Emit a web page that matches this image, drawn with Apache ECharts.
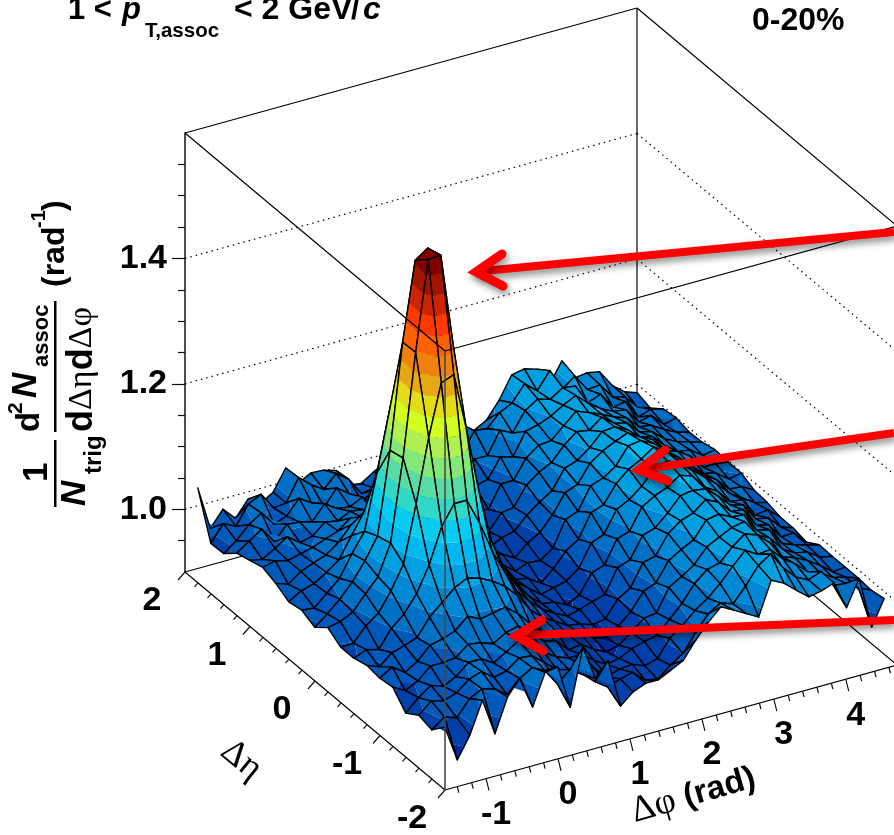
<!DOCTYPE html>
<html><head><meta charset="utf-8">
<style>html,body{margin:0;padding:0;background:#fff}#c{width:894px;height:835px}</style>
<script src="https://cdn.jsdelivr.net/npm/echarts@6/dist/echarts.min.js"></script>
</head><body><div id="c"></div>
<script>
// Surface height (per mille) at each bin centre: one row per delta-eta bin, 36 delta-phi bins each.
const zEtaM19=[989,931,965,1015,956,1009,1035,982,1032,1035,965,1055,1000,1023,945,962,970,970,980,990,1017,1040,1059,1048,1037,1026,1079,1069,1052,1036,1040,1047,1002,1043,960,1000];
const zEtaM17=[967,982,975,1000,1010,1005,990,1010,1022,1012,985,1002,990,972,958,965,970,952,948,965,978,1005,1030,1042,1035,1058,1085,1098,1070,1050,1040,1048,1020,1018,1005,996];
const zEtaM15=[973,990,985,992,1008,1015,1000,1005,1020,1018,1002,985,978,980,970,952,958,960,952,958,985,1000,1018,1032,1050,1072,1092,1080,1082,1062,1048,1030,1022,1010,1005,998];
const zEtaM13=[959,978,992,985,995,1012,1012,1000,1012,1025,1012,995,982,975,975,960,948,952,962,968,972,992,1012,1038,1055,1060,1080,1095,1088,1070,1042,1035,1025,1012,996,998];
const zEtaM11=[983,972,982,1000,1000,1002,1018,1015,1008,1020,1025,1008,990,985,965,968,955,945,950,965,982,985,1020,1032,1045,1068,1078,1088,1092,1065,1055,1032,1020,1016,1002,998];
const zEtaM09=[980,992,978,990,1010,1015,1022,1040,1030,1034,1038,1022,1000,980,978,965,962,950,945,958,975,1002,1010,1040,1052,1062,1088,1092,1082,1080,1050,1045,1018,1010,1004,999];
const zEtaM07=[983,975,992,998,1005,1032,1050,1068,1078,1072,1062,1048,1028,1000,982,970,958,955,948,952,978,990,1025,1030,1060,1075,1082,1098,1088,1068,1065,1035,1030,1005,1006,986];
const zEtaM05=[977,985,980,1008,1025,1052,1092,1148,1179,1179,1138,1088,1048,1012,990,972,960,950,955,962,968,1005,1012,1045,1052,1070,1092,1095,1092,1075,1055,1050,1022,1018,998,991];
const zEtaM03=[977,978,1000,1015,1045,1082,1172,1272,1354,1362,1270,1165,1080,1032,998,975,958,955,945,955,985,992,1028,1035,1068,1080,1088,1102,1095,1072,1060,1038,1035,1005,1008,991];
const zEtaM01=[991,995,1005,1028,1050,1098,1228,1391,1534,1535,1385,1225,1105,1045,1008,980,965,950,955,960,975,1010,1018,1052,1062,1078,1100,1108,1098,1082,1065,1048,1028,1015,1002,997];
const zEtaP01=[974,990,1008,1030,1058,1092,1223,1390,1515,1529,1385,1220,1115,1048,1002,985,962,958,945,962,985,998,1035,1042,1070,1088,1098,1112,1100,1080,1060,1045,1032,1012,1010,999];
const zEtaP03=[984,982,1000,1018,1052,1082,1170,1265,1345,1350,1270,1175,1090,1040,1012,975,968,952,960,958,972,1012,1020,1055,1062,1075,1102,1105,1095,1075,1062,1042,1025,1020,1005,1009];
const zEtaP05=[980,992,998,1010,1025,1058,1090,1145,1178,1175,1140,1095,1058,1025,992,985,960,962,950,968,980,1002,1032,1040,1068,1082,1092,1100,1088,1078,1055,1048,1035,1012,1012,1009];
const zEtaP07=[992,985,1000,1008,1015,1030,1052,1060,1080,1074,1062,1042,1028,1005,990,968,975,955,965,970,990,1005,1018,1048,1055,1070,1090,1092,1082,1065,1060,1040,1025,1022,1008,1011];
const zEtaP09=[1000,1005,1000,1005,1010,1018,1025,1040,1035,1042,1030,1020,1005,995,985,978,962,972,958,982,985,1015,1030,1040,1062,1078,1075,1090,1075,1070,1050,1045,1028,1018,1012,1006];
const zEtaP11=[994,990,1002,1015,1000,1005,1022,1018,1028,1025,1012,1010,1002,1000,975,985,970,960,975,970,1005,1005,1035,1050,1052,1070,1088,1080,1072,1062,1055,1035,1032,1020,1010,1005];
const zEtaP13=[988,1002,1015,990,1012,1010,1005,1028,1015,1012,1022,1005,995,985,990,968,980,972,965,990,995,1025,1020,1055,1060,1068,1080,1090,1072,1058,1048,1045,1020,1025,1005,1010];
const zEtaP15=[970,985,1005,1018,995,1002,1025,1012,1000,1025,1010,992,1005,990,972,985,965,980,985,975,1010,1010,1045,1035,1065,1078,1072,1085,1082,1050,1058,1032,1035,1005,1012,1007];
const zEtaP17=[969,995,985,1015,1025,998,1000,1035,1018,1005,1025,1010,982,985,995,970,990,975,975,1000,1000,1032,1030,1050,1060,1085,1068,1095,1060,1075,1048,1050,1025,1020,998,991];
const zEtaP19=[1040,970,995,975,1000,988,1000,1033,1003,1014,1013,1007,978,975,988,1000,980,1005,985,1010,1000,1025,1010,1021,1047,1082,1086,1080,1049,1082,1049,1052,1048,1021,1005,998];
const zRows=[zEtaM19,zEtaM17,zEtaM15,zEtaM13,zEtaM11,zEtaM09,zEtaM07,zEtaM05,zEtaM03,zEtaM01,zEtaP01,zEtaP03,zEtaP05,zEtaP07,zEtaP09,zEtaP11,zEtaP13,zEtaP15,zEtaP17,zEtaP19];
zRows.forEach((r,k)=>{if(r.length!==36)throw new Error('row '+k+' has '+r.length)});

const zMajor=[1.0,1.2,1.4];
const zMinor=[0.95,1.05,1.1,1.15,1.25,1.3,1.35,1.45,1.5,1.55];
const phiMajor=[-1,0,1,2,3,4];
const phiMinor=[-1.4,-1.2,-0.8,-0.6,-0.4,-0.2,0.2,0.4,0.6,0.8,1.2,1.4,1.6,1.8,2.2,2.4,2.6,2.8,3.2,3.4,3.6,3.8,4.2,4.4,4.6];
const etaMajor=[-2,-1,0,1,2];
const etaMinor=[-1.8,-1.6,-1.4,-1.2,-0.8,-0.6,-0.4,-0.2,0.2,0.4,0.6,0.8,1.2,1.4,1.6,1.8];
const palette=['#0028a0','#0040a8','#0058b8','#0070c4','#0088d4','#00a0e0','#00b8f0','#08ccf0','#30d8c8','#58dca4','#84e878','#b0f050','#d2ff20','#e4dc18','#e8a814','#f08010','#ff6000','#ff3800','#cc2400','#a01400','#800000'];
const zBandStart=0.92, zBandStep=0.0295;

const PI=Math.PI, phiMin=-PI/2, phiMax=3*PI/2, phiBin=2*PI/36, etaBin=0.2, zMin=0.9, zMax=1.6;
const skewEta=[260,218], skewPhi=-125;
function project(api,phi,eta,z){
  const p=api.coord([phi,z]);
  const e=(2-eta)/4, f=(phi-phiMin)/(phiMax-phiMin);
  return [p[0]+e*skewEta[0], p[1]+e*skewEta[1]+f*skewPhi];
}
function clip(poly,level,keepAbove){
  const out=[];
  for(let k=0;k<poly.length;k++){
    const a=poly[k], b=poly[(k+1)%poly.length];
    const ai=keepAbove?a[2]>=level:a[2]<=level, bi=keepAbove?b[2]>=level:b[2]<=level;
    if(ai)out.push(a);
    if(ai!==bi){const t=(level-a[2])/(b[2]-a[2]);out.push([a[0]+t*(b[0]-a[0]),a[1]+t*(b[1]-a[1]),level]);}
  }
  return out;
}
const cellData=[];
for(let j=18;j>=0;j--)for(let i=34;i>=0;i--)cellData.push([i,j]);

function renderCell(params,api){
  const i=api.value(0), j=api.value(1);
  const corners=[[i,j],[i+1,j],[i+1,j+1],[i,j+1]].map(([a,b])=>{
    const z=zRows[b][a]/1000, phi=phiMin+(a+.5)*phiBin, eta=-2+(b+.5)*etaBin, p=project(api,phi,eta,z);
    return [p[0],p[1],z];
  });
  const children=[];
  const zs=corners.map(c=>c[2]), lo=Math.min(...zs), hi=Math.max(...zs);
  for(let b=0;b<palette.length;b++){
    const l=b===0?-9:zBandStart+b*zBandStep, h=b===palette.length-1?9:zBandStart+(b+1)*zBandStep;
    if(h<lo||l>hi)continue;
    const poly=clip(clip(corners,l,true),h,false);
    if(poly.length<3)continue;
    children.push({type:'polygon',shape:{points:poly.map(q=>[q[0],q[1]])},style:{fill:palette[b],stroke:null},silent:true});
  }
  children.push({type:'polygon',shape:{points:corners.map(q=>[q[0],q[1]])},style:{fill:null,stroke:'#000',lineWidth:1.4,lineJoin:'round'},silent:true});
  return {type:'group',children};
}

// Box edges as [phi,eta,z, phi,eta,z]
const backEdges=[
 [phiMax,-2,zMin,phiMin,-2,zMin],[phiMin,-2,zMin,phiMin,2,zMin],[phiMin,2,zMin,phiMax,2,zMin],[phiMax,2,zMin,phiMax,-2,zMin],
 [phiMax,2,zMin,phiMax,2,zMax]
];
const frontEdges=[
 [phiMin,2,zMax,phiMax,2,zMax],[phiMax,2,zMax,phiMax,-2,zMax],[phiMin,2,zMax,phiMin,-2,zMax],[phiMin,-2,zMax,phiMax,-2,zMax]
];
const grey=[[phiMin,-2,zMin,phiMin,-2,zMax]];
function edgeRender(style){return (params,api)=>{
  const a=project(api,api.value(0),api.value(1),api.value(2)), b=project(api,api.value(3),api.value(4),api.value(5));
  return {type:'line',shape:{x1:a[0],y1:a[1],x2:b[0],y2:b[1]},style,silent:true};
}}
// Dotted level lines on both back walls
const wallLines=[];
zMajor.forEach(z=>{wallLines.push([phiMin,2,z,phiMax,2,z]);wallLines.push([phiMax,2,z,phiMax,-2,z]);});
// ticks
const phiTicks=phiMajor.map(v=>[v,1]).concat(phiMinor.map(v=>[v,0]));
const etaTicks=etaMajor.map(v=>[v,1]).concat(etaMinor.map(v=>[v,0]));
const customBase={type:'custom',coordinateSystem:'cartesian2d',xAxisIndex:0,yAxisIndex:0,animation:false,silent:true,progressive:0,clip:false};
const S='"Liberation Sans"';
const txt=(text,x,y,font,extra)=>Object.assign({type:'text',x,y,z:20,silent:true,style:{text,font,fill:'#000',align:'left',verticalAlign:'middle'}},extra||{});
const rot=(text,x,y,font)=>txt(text,x,y,font,{rotation:PI/2});
const arrows=[
 {from:[894,232],tip:[470,272],a:[502,254],b:[503,286]},
 {from:[894,433],tip:[633,470],a:[665,450],b:[668,481]},
 {from:[894,620],tip:[510,636],a:[542,620],b:[543,651]}
];
const arrowEls=[];
arrows.forEach(o=>{
 const sh={shadowBlur:7,shadowColor:'rgba(0,0,0,0.45)',shadowOffsetX:2,shadowOffsetY:4};
 arrowEls.push({type:'line',z:30,silent:true,shape:{x1:o.from[0],y1:o.from[1],x2:o.tip[0]+8,y2:o.tip[1]-0.5},style:Object.assign({stroke:'#ff0000',lineWidth:8},sh)});
 arrowEls.push({type:'polyline',z:31,silent:true,shape:{points:[o.a,[o.tip[0]+6,o.tip[1]],o.b]},style:Object.assign({stroke:'#ff0000',lineWidth:9,lineCap:'round',lineJoin:'miter',miterLimit:8,fill:null},sh)});
});

const option={
 backgroundColor:'#fff',animation:false,
 grid:{left:185,top:133,width:452,height:439,containLabel:false},
 xAxis:{type:'value',min:phiMin,max:phiMax,show:false},
 yAxis:[
  {type:'value',min:zMin,max:zMax,position:'left',splitLine:{show:false},
   axisLine:{show:true,onZero:false,lineStyle:{color:'#111',width:1.5}},
   axisTick:{show:true,customValues:zMajor,length:13,lineStyle:{color:'#111',width:1.2}},
   axisLabel:{show:true,customValues:zMajor,margin:18,formatter:v=>v.toFixed(1),color:'#000',fontSize:34,fontWeight:'bold',fontFamily:S}},
  {type:'value',min:zMin,max:zMax,position:'left',splitLine:{show:false},
   axisLine:{show:false,onZero:false},
   axisTick:{show:true,customValues:zMinor,length:7,lineStyle:{color:'#111',width:1.2}},
   axisLabel:{show:false}}
 ],
 graphic:{elements:[
  txt('1 <',68,10,'bold 31px '+S),
  txt('p',122,10,'italic bold 31px '+S),
  txt('T,assoc',145,31,'bold 20.5px '+S),
  txt('< 2 GeV',234,10,'bold 32px '+S),
  txt('/',351,10,'bold 31px '+S),
  txt('c',363,10,'italic bold 32px '+S),
  txt('0-20%',752,21,'bold 32px '+S),
  rot('1',37,482,'bold 35px '+S),
  rot('N',75,506,'italic bold 35px '+S),
  rot('trig',94,474,'bold 24px '+S),
  {type:'rect',z:20,silent:true,shape:{x:54,y:440,width:2.5,height:67},style:{fill:'#000'}},
  rot('d',30,432,'bold 33px '+S),
  rot('2',16,414,'bold 21px '+S),
  rot('N',26,398,'italic bold 35px '+S),
  rot('assoc',42,367,'bold 22px '+S),
  {type:'rect',z:20,silent:true,shape:{x:54,y:301,width:2.5,height:131},style:{fill:'#000'}},
  {type:'text',x:82,y:432,z:20,rotation:PI/2,silent:true,style:{text:'{b|d}{s|\u0394\u03b7}{b|d}{s|\u0394\u03c6}',align:'left',verticalAlign:'middle',fill:'#000',
    rich:{b:{font:'bold 36px '+S,fill:'#000'},s:{font:'34px "Liberation Serif"',fill:'#000'}}}},
  rot('(rad',55,287,'bold 32px '+S),
  rot('-1',39,228,'bold 20px '+S),
  rot(')',55,211,'bold 32px '+S),
  txt('\u0394\u03b7',225,747,'36px "Liberation Serif"',{rotation:-0.68}),
  {type:'text',x:632,y:813,z:20,rotation:0.28,silent:true,style:{text:'{s|\u0394\u03c6}{b| (rad)}',align:'left',verticalAlign:'middle',fill:'#000',
    rich:{b:{font:'bold 33px '+S,fill:'#000'},s:{font:'37px "Liberation Serif"',fill:'#000'}}}}
 ].concat(arrowEls)},
 series:[
  Object.assign({},customBase,{name:'floor',z:1,data:backEdges,renderItem:edgeRender({stroke:'#000',lineWidth:1.2})}),
  Object.assign({},customBase,{name:'walls',z:1,data:wallLines,renderItem:edgeRender({stroke:'#000',lineWidth:1.2,lineDash:[1.5,4]})}),
  Object.assign({},customBase,{name:'phiTicks',z:1,data:phiTicks,renderItem:(p,api)=>{
    const a=project(api,api.value(0),-2,zMin), m=api.value(1);
    const ch=[{type:'line',shape:{x1:a[0],y1:a[1],x2:a[0]+(m?3:1.5),y2:a[1]+(m?12:6)},style:{stroke:'#111',lineWidth:1.2}}];
    if(m)ch.push({type:'text',x:a[0]+10,y:a[1]+36,style:{text:String(api.value(0)),font:'bold 34px '+S,fill:'#000',align:'center',verticalAlign:'middle'}});
    return {type:'group',children:ch};
  }}),
  Object.assign({},customBase,{name:'etaTicks',z:1,data:etaTicks,renderItem:(p,api)=>{
    const a=project(api,phiMin,api.value(0),zMin), m=api.value(1);
    const ch=[{type:'line',shape:{x1:a[0],y1:a[1],x2:a[0]-(m?7:3.5),y2:a[1]+(m?8:4)},style:{stroke:'#111',lineWidth:1.2}}];
    if(m)ch.push({type:'text',x:a[0]-33,y:a[1]+29,style:{text:String(api.value(0)),font:'bold 34px '+S,fill:'#000',align:'center',verticalAlign:'middle'}});
    return {type:'group',children:ch};
  }}),
  Object.assign({},customBase,{name:'deltaEtaDeltaPhi',z:2,data:cellData,renderItem:renderCell}),
  Object.assign({},customBase,{name:'top',z:3,data:frontEdges,renderItem:edgeRender({stroke:'#000',lineWidth:1.2})}),
  Object.assign({},customBase,{name:'frontEdge',z:3,data:grey,renderItem:edgeRender({stroke:'#4a4a4a',lineWidth:1.6})})
 ]
};
const chart=echarts.init(document.getElementById('c'),null,{renderer:'canvas',width:894,height:835});
chart.setOption(option);
</script></body></html>
